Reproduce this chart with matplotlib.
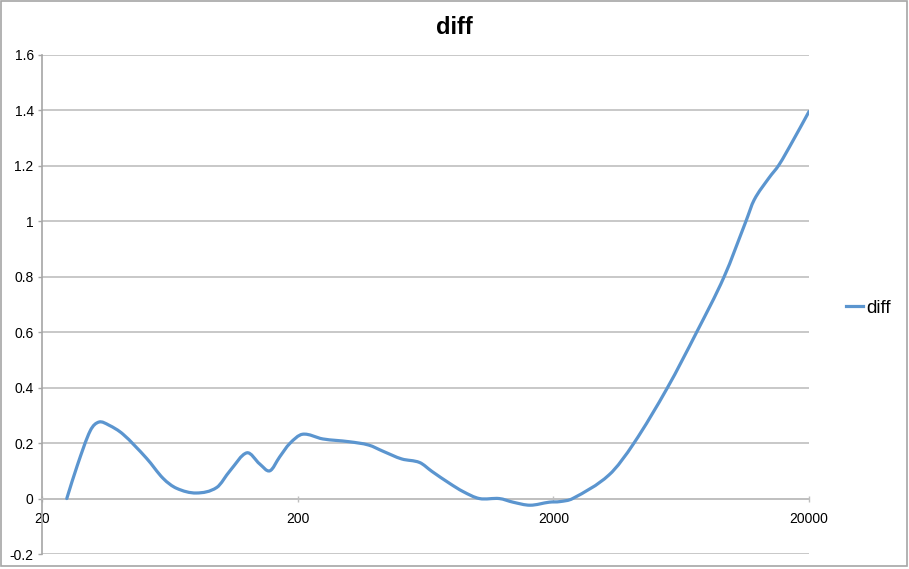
import matplotlib
matplotlib.use("Agg")
import numpy as np
import matplotlib.pyplot as plt
from matplotlib.patches import Rectangle, PathPatch
from matplotlib.path import Path
from matplotlib.lines import Line2D
from matplotlib.ticker import FixedLocator, FixedFormatter, NullLocator

plt.rcParams["font.family"] = ["Liberation Sans", "DejaVu Sans"]

# frequências (Hz) e valores
freq = [25.0, 27.5, 30.9, 33.4, 36.5, 41.5, 51.3, 59.5, 67.2,
        80.3, 96.5, 108.7, 126.6, 142.0, 155.6, 170.0, 186.0, 209.0, 251.0,
        318.0, 379.0, 433.0, 510.0, 600.0, 670.0, 785.0, 888.0, 1028.0,
        1230.0, 1390.0, 1623.0, 1930.0, 2120.0, 2380.0,
        3300.0, 4133.0, 5590.0, 7270.0, 9310.0,
        11330.0, 12200.0, 13930.0, 15270.0, 17240.0, 20000.0]
diff = [0.0, 0.12, 0.245, 0.276, 0.265, 0.232, 0.145, 0.073, 0.037,
        0.02, 0.04, 0.10, 0.165, 0.125, 0.10, 0.15, 0.198, 0.232, 0.215,
        0.205, 0.193, 0.17, 0.143, 0.13, 0.098, 0.055, 0.025, 0.0,
        0.0, -0.013, -0.024, -0.013, -0.011, 0.0,
        0.085, 0.20, 0.40, 0.60, 0.80,
        1.0, 1.077, 1.156, 1.204, 1.288, 1.396]

x_ticks = [20, 200, 2000, 20000]
x_labels = ["20", "200", "2000", "20000"]
y_ticks = [-0.2, 0, 0.2, 0.4, 0.6, 0.8, 1.0, 1.2, 1.4, 1.6]
y_labels = ["-0.2", "0", "0.2", "0.4", "0.6", "0.8", "1", "1.2", "1.4", "1.6"]

grid_cor = "#bfbfbf"
linha_cor = "#5b95cf"


def caminho_suave(xs, ys):
    # linha suavizada (Hermite cúbica em log10 de x), desenhada como Bezier
    lx = np.log10(xs)
    ys = np.asarray(ys, dtype=float)
    n = len(lx)
    m = np.empty(n)
    m[0] = (ys[1] - ys[0]) / (lx[1] - lx[0])
    m[-1] = (ys[-1] - ys[-2]) / (lx[-1] - lx[-2])
    for i in range(1, n - 1):
        m[i] = (ys[i + 1] - ys[i - 1]) / (lx[i + 1] - lx[i - 1])
    verts = [(xs[0], ys[0])]
    codes = [Path.MOVETO]
    for i in range(n - 1):
        h = lx[i + 1] - lx[i]
        c1 = (10 ** (lx[i] + h / 3), ys[i] + m[i] * h / 3)
        c2 = (10 ** (lx[i + 1] - h / 3), ys[i + 1] - m[i + 1] * h / 3)
        verts += [c1, c2, (xs[i + 1], ys[i + 1])]
        codes += [Path.CURVE4] * 3
    return Path(verts, codes)


fig = plt.figure(figsize=(9.09, 5.69), dpi=100)
ax = fig.add_axes([42 / 909, 15 / 569, (809 - 42) / 909, (554 - 55) / 569])

ax.set_xscale("log")
ax.set_xlim(20, 20000)
ax.set_ylim(-0.2, 1.6)

ax.add_patch(PathPatch(caminho_suave(freq, diff), fill=False, edgecolor=linha_cor,
                       linewidth=2.3, capstyle="round", joinstyle="round", zorder=3))

ax.xaxis.set_major_locator(FixedLocator(x_ticks))
ax.xaxis.set_major_formatter(FixedFormatter(x_labels))
ax.xaxis.set_minor_locator(NullLocator())
ax.yaxis.set_major_locator(FixedLocator(y_ticks))
ax.yaxis.set_major_formatter(FixedFormatter(y_labels))

ax.grid(True, axis="y", color=grid_cor, linewidth=1.2)
ax.set_axisbelow(True)

for lado in ["top", "right"]:
    ax.spines[lado].set_visible(False)
ax.spines["bottom"].set_position(("data", 0))
ax.spines["bottom"].set_color(grid_cor)
ax.spines["bottom"].set_linewidth(1.2)
ax.spines["left"].set_color("#a6a6a6")
ax.spines["left"].set_linewidth(1.2)

ax.tick_params(axis="y", length=3, width=1, color="#a6a6a6", labelsize=10, pad=3)
ax.tick_params(axis="x", length=4, width=1, direction="inout", color=grid_cor,
               labelsize=10, pad=8)

fig.suptitle("diff", x=0.5, y=1 - 28 / 569, va="center", fontsize=17, fontweight="bold")

ax.legend(handles=[Line2D([], [], color=linha_cor, linewidth=2.3)], labels=["diff"],
          loc="center left", bbox_to_anchor=(1.038, (554 - 308) / 499), frameon=False,
          fontsize=13.5, handlelength=0.9, handletextpad=0.2, borderaxespad=0)

# moldura do gráfico
fig.patches.append(Rectangle((1 / 909, 3 / 569), 906 / 909, 565 / 569, transform=fig.transFigure,
                             fill=False, edgecolor="#a6a6a6", linewidth=1.2))

fig.savefig("out.png", dpi=100)
